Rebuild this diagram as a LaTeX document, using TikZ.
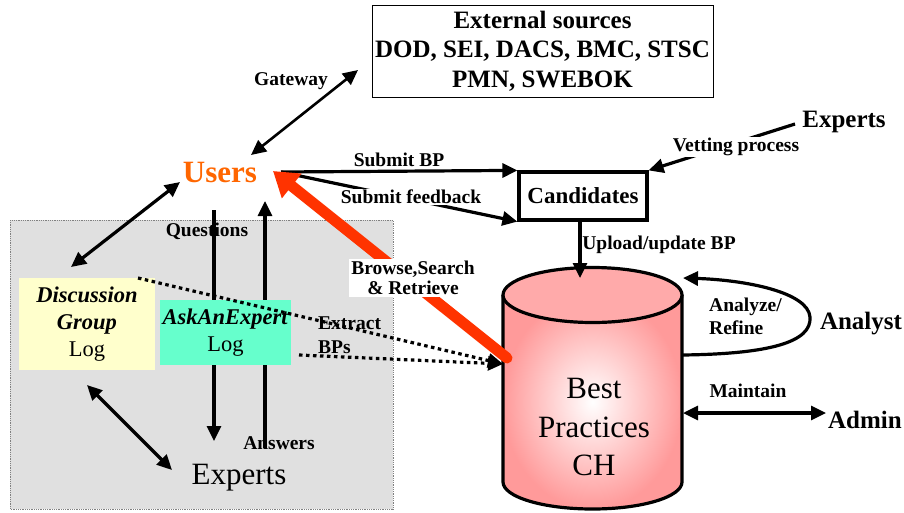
\documentclass[tikz,border=0pt]{standalone}
\usepackage{fontspec}
\setmainfont{Liberation Serif}
\usetikzlibrary{arrows.meta,shapes.geometric}
\definecolor{usersorange}{HTML}{FF6600}
\definecolor{redarrow}{HTML}{FF3300}
\definecolor{dgyellow}{HTML}{FFFFCC}
\definecolor{aeaqua}{HTML}{66FFCC}
\definecolor{greybg}{HTML}{E0E0E0}
\definecolor{cylpink}{HTML}{FF9A9A}
\definecolor{cyltop}{HTML}{FFAAAA}
\begin{document}
\begin{tikzpicture}[x=1pt,y=-1pt,
  lbl/.style={font=\fontsize{19.5}{20}\selectfont\bfseries, inner sep=1pt},
  big/.style={font=\fontsize{25}{29}\selectfont\bfseries, inner sep=0pt},
  conn/.style={line width=3.2pt, -{Triangle[length=15pt,width=14pt]}},
  dconn/.style={line width=3.2pt, {Triangle[length=15pt,width=14pt]}-{Triangle[length=15pt,width=14pt]}},
  dotconn/.style={line width=3.2pt, dash pattern=on 3.5pt off 3.5pt, -{Triangle[length=15pt,width=14pt]}},
  logbox/.style={inner sep=0pt, align=center, font=\fontsize{22.5}{27}\selectfont},
]
\useasboundingbox (0,0) rectangle (904,512);

% textured background area
\fill[greybg] (10,220) rectangle (393,509);
\draw[gray, densely dotted, line width=0.8pt] (10,220) rectangle (393,509);

% named coordinates for connector ends
\coordinate (uGateway) at (251,155);
\coordinate (extGate) at (358,70);
\coordinate (uRight) at (281,172);
\coordinate (uDG) at (180,182);
\coordinate (dgTop) at (71,267);
\coordinate (dgBottom) at (87,385);
\coordinate (expDG) at (172,470);
\coordinate (qTop) at (214,210);
\coordinate (qBot) at (214,441);
\coordinate (aBot) at (265,448);
\coordinate (aTop) at (265,201);
\coordinate (dgCorner) at (138,278);
\coordinate (aeRight) at (299,355);
\coordinate (dbIn) at (503,364);
\coordinate (redStart) at (507,358);
\coordinate (redTip) at (273,171);
\coordinate (expVet) at (795,124);
\coordinate (dbTop) at (580,278);
\coordinate (loopOut) at (682,355);
\coordinate (loopIn) at (683,278);
\coordinate (dbRight) at (683,413);
\coordinate (adminLeft) at (826,413);

% nodes
\node[draw, line width=1pt, minimum width=341pt, minimum height=92pt, align=center,
      font=\fontsize{25}{29.5}\selectfont\bfseries, inner sep=0pt] (ext) at (542.5,51)
      {External sources\\DOD, SEI, DACS, BMC, STSC\\PMN, SWEBOK};
\node[font=\fontsize{31}{31}\selectfont\bfseries, text=usersorange, inner sep=0pt] (users) at (220,172) {Users};
\node[draw, line width=3.2pt, minimum width=128pt, minimum height=48pt, inner sep=0pt,
      font=\fontsize{23}{23}\selectfont\bfseries] (cand) at (583,196) {Candidates};
\node[big] (expertsR) at (844,122) {Experts};
\node[big] (analyst) at (861,324) {Analyst};
\node[big] (admin) at (865,420) {Admin};
\node[font=\fontsize{31}{31}\selectfont, inner sep=0pt] (experts) at (239,478) {Experts};

% questions / answers lines (behind the AskAnExpert box)
\node[lbl] (qlbl) at (207,231) {Questions};
\node[lbl] (albl) at (279,443) {Answers};
\draw[conn] (qTop) -- (qBot);
\draw[conn] (aBot) -- (aTop);

% log boxes
\node[logbox, fill=dgyellow, minimum width=136pt, minimum height=92pt] (dg) at (87,324)
      {\textbf{\textit{Discussion}}\\\textbf{\textit{Group}}\\Log};
\node[logbox, fill=aeaqua, minimum width=131pt, minimum height=65pt] (ae) at (225.5,332.5)
      {\textbf{\textit{AskAnExpert}}\\Log};

% cylinder: Best Practices CH
\shade[inner color=white, outer color=cylpink] (503,295) -- (503,482)
      arc[start angle=180, end angle=360, x radius=89.5pt, y radius=27pt] -- (682,295) -- cycle;
\draw[line width=3.2pt] (503,295) -- (503,482)
      arc[start angle=180, end angle=360, x radius=89.5pt, y radius=27pt] -- (682,295);
\draw[line width=3.2pt, fill=cyltop] (592.5,295) ellipse[x radius=89.5pt, y radius=27.5pt];
\node[font=\fontsize{31}{38.5}\selectfont, align=center, inner sep=0pt] (db) at (594,427)
      {Best\\Practices\\CH};

% connectors
\draw[dconn, line width=2.6pt] (uGateway) -- (extGate);
\node[lbl] (gw) at (291,81) {Gateway};

\draw[conn] (uRight) -- (cand.north west);
\node[lbl] (sbp) at (399,160) {Submit BP};
\draw[conn] (uRight) -- (cand.south west);
\node[lbl, fill=white] (sfb) at (411,197) {Submit feedback};

\draw[conn] (expVet) -- (cand.north east);
\node[lbl, fill=white] (vet) at (736,147) {Vetting process};

\draw[conn] (cand.south) ++(-3,0) -- (dbTop);
\node[lbl] (upl) at (659,245) {Upload/update BP};

\draw[dconn] (uDG) -- (dgTop);
\draw[dconn] (dgBottom) -- (expDG);

% extract BPs dotted
\draw[dotconn] (dgCorner) -- (dbIn);
\draw[dotconn] (aeRight) -- (dbIn);
\node[lbl, anchor=west, align=left, font=\fontsize{19.5}{24}\selectfont\bfseries] (ext lbl) at (317,335) {Extract\\BPs};

% red browse arrow
\draw[redarrow, line width=11pt, line cap=round, -{Triangle[length=24pt,width=30pt]}] (redStart) -- (redTip);
\node[lbl, fill=white, align=center, inner sep=2pt] (bsr) at (413,278) {Browse,Search\\\& Retrieve};

% analyze / refine loop
\draw[line width=3.2pt, -{Triangle[length=15pt,width=14pt]}] (loopOut)
      .. controls (770,354) and (812,342) .. (810,317)
      .. controls (808,292) and (745,280) .. (loopIn);
\node[lbl, anchor=west, align=left, font=\fontsize{19.5}{23}\selectfont\bfseries] (anl) at (708,316) {Analyze/\\Refine};

% maintain
\draw[dconn] (dbRight) -- (adminLeft);
\node[lbl] (mnt) at (748,391) {Maintain};
\end{tikzpicture}
\end{document}
